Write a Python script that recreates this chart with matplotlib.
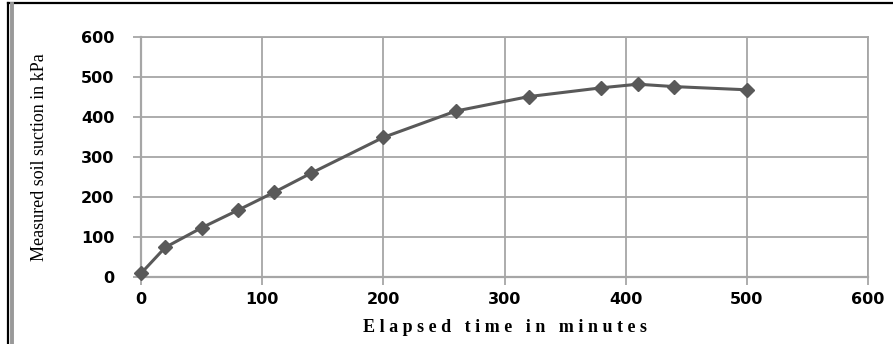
import matplotlib.pyplot as plt
from matplotlib.lines import Line2D

# elapsed time (min) vs measured suction (kPa)
time_min = [0, 20, 50, 80, 110, 140, 200, 260, 320, 380, 410, 440, 500]
suction_kpa = [9, 74, 123, 167, 212, 259, 349, 415, 451, 473, 482, 476, 468]

x_ticks = [0, 100, 200, 300, 400, 500, 600]
y_ticks = [0, 100, 200, 300, 400, 500, 600]

grid_col = '#a6a6a6'
line_col = '#595959'

fig = plt.figure(figsize=(8.93, 3.44), dpi=100)
ax = fig.add_axes([141 / 893, 1 - 277 / 344, 727 / 893, 240 / 344])

ax.plot(time_min, suction_kpa, color=line_col, linewidth=2.2, marker='D',
        markersize=7.5, markerfacecolor=line_col, markeredgecolor=line_col,
        zorder=3, clip_on=False)

ax.set_xlim(0, 600)
ax.set_ylim(0, 600)
ax.set_xticks(x_ticks)
ax.set_yticks(y_ticks)
ax.grid(True, color=grid_col, linewidth=1.3)
ax.set_axisbelow(True)

for side in ['top', 'right', 'bottom']:
    ax.spines[side].set_color(grid_col)
    ax.spines[side].set_linewidth(1.3)
ax.spines['left'].set_color(grid_col)
ax.spines['left'].set_linewidth(1.6)
ax.spines['bottom'].set_linewidth(1.6)

ax.tick_params(axis='both', direction='out', color=grid_col, width=1.3,
               length=6, labelsize=11.5)
ax.tick_params(axis='x', pad=5)
ax.tick_params(axis='y', pad=13)
for lbl in ax.get_xticklabels() + ax.get_yticklabels():
    lbl.set_fontweight('bold')
    lbl.set_family('DejaVu Sans')

fig.text(505 / 893, 1 - 327 / 344, 'E l a p s e d   t i m e   i n   m i n u t e s',
         ha='center', va='center', fontsize=13, fontweight='bold',
         family='Liberation Serif')
fig.text(40 / 893, 1 - 157 / 344, 'Measured soil suction in kPa',
         ha='center', va='center', rotation=90, fontsize=13,
         family='Liberation Serif')

# frame on the left and top edges
fig.add_artist(Line2D([8 / 893, 8 / 893], [0, 1 - 3 / 344], color='black', linewidth=1.6))
fig.add_artist(Line2D([8 / 893, 1], [1 - 3 / 344, 1 - 3 / 344], color='black', linewidth=1.6))
fig.add_artist(Line2D([11.5 / 893, 11.5 / 893], [0, 1 - 4 / 344], color='#999999', linewidth=2.8))

fig.savefig('out.png', dpi=100)
